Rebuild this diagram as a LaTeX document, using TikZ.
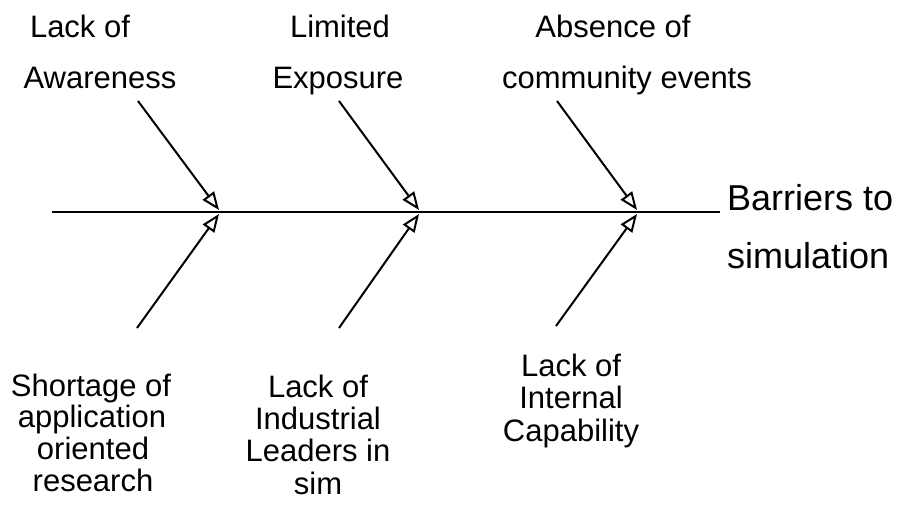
\documentclass[tikz,border=0pt]{standalone}
\usepackage{fontspec}
\setmainfont{Liberation Sans}
\usetikzlibrary{arrows.meta}
\begin{document}
\begin{tikzpicture}[x=1pt,y=-1pt,
  lbl/.style={font=\fontsize{31}{33}\selectfont,anchor=base,inner sep=0pt},
  big/.style={font=\fontsize{36}{38}\selectfont,anchor=base west,inner sep=0pt},
  bone/.style={line width=2pt},
  rib/.style={line width=2pt,-{Triangle[open,length=18pt,width=14pt,line width=2pt]}}]
\useasboundingbox (0,0) rectangle (898,506);
% spine
\coordinate (tail) at (52,212);
\coordinate (head) at (720,212);
\draw[bone] (tail) -- (head);
% junctions
\coordinate (t1) at (219,210);
\coordinate (t2) at (419,210);
\coordinate (t3) at (637,210);
\coordinate (b1) at (219,214);
\coordinate (b2) at (419,214);
\coordinate (b3) at (637,214);
% rib starts
\coordinate (st1) at (138,101);
\coordinate (st2) at (339,101);
\coordinate (st3) at (557,101);
\coordinate (sb1) at (137,328);
\coordinate (sb2) at (339,328);
\coordinate (sb3) at (556,326);
\draw[rib] (st1) -- (t1);
\draw[rib] (st2) -- (t2);
\draw[rib] (st3) -- (t3);
\draw[rib] (sb1) -- (b1);
\draw[rib] (sb2) -- (b2);
\draw[rib] (sb3) -- (b3);
% top labels
\node[lbl] (a1) at (80,37) {Lack of};
\node[lbl] (a2) at (100,88) {Awareness};
\node[lbl] (l1) at (340,37) {Limited};
\node[lbl] (l2) at (338,88) {Exposure};
\node[lbl] (c1) at (613,37) {Absence of};
\node[lbl] (c2) at (627,88) {community events};
% effect
\node[big] (e1) at (727,210) {Barriers to};
\node[big] (e2) at (727,268) {simulation};
% bottom labels
\node[lbl] (s1) at (91,396) {Shortage of};
\node[lbl] (s2) at (92,427) {application};
\node[lbl] (s3) at (93,459) {oriented};
\node[lbl] (s4) at (93,491) {research};
\node[lbl] (m1) at (318,397) {Lack of};
\node[lbl] (m2) at (318,429) {Industrial};
\node[lbl] (m3) at (318,461) {Leaders in};
\node[lbl] (m4) at (318,494) {sim};
\node[lbl] (r1) at (571,376) {Lack of};
\node[lbl] (r2) at (571,408) {Internal};
\node[lbl] (r3) at (571,441) {Capability};
\end{tikzpicture}
\end{document}
